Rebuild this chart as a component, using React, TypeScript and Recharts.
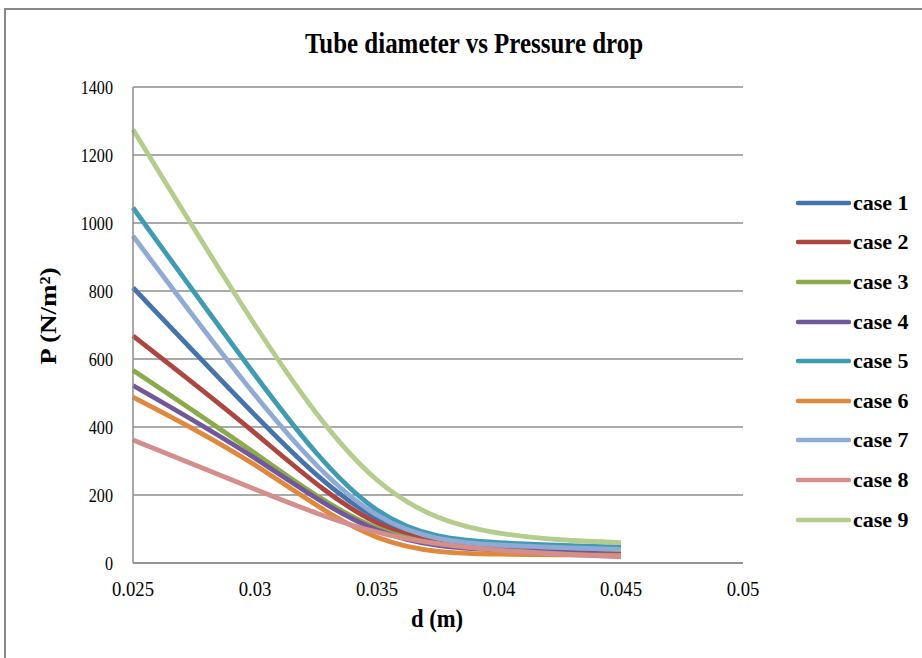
import { LineChart, Line, XAxis, YAxis, CartesianGrid } from "recharts";

// diameters (m) along the x axis
const diameters = [0.025, 0.03, 0.035, 0.04, 0.045];

// pressure drop (N/m²) for each case
const case1 = [810, 435, 132, 55, 38];
const case2 = [668, 382, 118, 45, 32];
const case3 = [567, 323, 103, 40, 28];
const case4 = [522, 308, 97, 38, 26];
const case5 = [1045, 553, 156, 60, 47];
const case6 = [488, 288, 76, 26, 22];
const case7 = [962, 494, 141, 53, 40];
const case8 = [362, 217, 91, 38, 18];
const case9 = [1275, 700, 244, 88, 60];

const xTicks = [0.025, 0.03, 0.035, 0.04, 0.045, 0.05];
const yTicks = [0, 200, 400, 600, 800, 1000, 1200, 1400];

const seriesNames = ["case 1", "case 2", "case 3", "case 4", "case 5", "case 6", "case 7", "case 8", "case 9"];
const seriesValues = [case1, case2, case3, case4, case5, case6, case7, case8, case9];
const colors = ["#4573AC", "#AD4540", "#8BAA4C", "#71589A", "#3F9BB3", "#E0883C", "#8FAAD4", "#D48E8C", "#B4CC8C"];

const data = diameters.map((d, i) => {
  const row: { [key: string]: number } = { d };
  seriesNames.forEach((name, s) => {
    row[name] = seriesValues[s][i];
  });
  return row;
});

const FONT = "'Liberation Serif', 'Times New Roman', serif";
const SQUEEZE = 0.85; // the original text looks a bit condensed

// tick labels, narrowed a little around their own anchor
const XTick = (props: any) => {
  const { x, y, payload } = props;
  return (
    <text
      x={x}
      y={y}
      dy="0.71em"
      textAnchor="middle"
      fontSize={22}
      fontFamily={FONT}
      fill="#000"
      transform={`translate(${x} 0) scale(${SQUEEZE} 1) translate(${-x} 0)`}
    >
      {String(payload.value)}
    </text>
  );
};

const YTick = (props: any) => {
  const { x, y, payload } = props;
  return (
    <text
      x={x}
      y={y}
      dy="0.355em"
      textAnchor="end"
      fontSize={19}
      fontFamily={FONT}
      fill="#000"
      transform={`translate(${x} 0) scale(${SQUEEZE} 1) translate(${-x} 0)`}
    >
      {String(payload.value)}
    </text>
  );
};

// legend drawn beside the chart, like Excel does
const LegendBox = () => (
  <div style={{ position: "absolute", left: 795, top: 183, fontFamily: FONT }}>
    {seriesNames.map((name, i) => (
      <div key={name} style={{ display: "flex", alignItems: "center", height: 39.6 }}>
        <svg width={56} height={10}>
          <line x1={3} y1={5} x2={54} y2={5} stroke={colors[i]} strokeWidth={4.5} strokeLinecap="round" />
        </svg>
        <span style={{ fontWeight: "bold", fontSize: 22, color: "#000", marginLeft: 2 }}>{name}</span>
      </div>
    ))}
  </div>
);

export default function App() {
  return (
    <div style={{ position: "absolute", left: 0, top: 0, width: 922, height: 658, background: "#fff", overflow: "hidden", fontFamily: FONT }}>
      <div style={{ position: "absolute", left: 4, top: 8, width: 960, height: 700, borderLeft: "2px solid #888", borderTop: "2px solid #888" }} />
      <div
        style={{
          position: "absolute",
          left: 174,
          width: 600,
          top: 28,
          textAlign: "center",
          fontWeight: "bold",
          fontSize: 29,
          lineHeight: "30px",
          whiteSpace: "nowrap",
          transform: "scaleX(0.86)",
        }}
      >
        Tube diameter vs Pressure drop
      </div>
      <div style={{ position: "absolute", left: 0, top: 0 }}>
        <LineChart width={922} height={658} data={data} margin={{ top: 87, right: 179, bottom: 65, left: 73 }}>
          <CartesianGrid horizontal vertical={false} stroke="#8c8c8c" strokeWidth={1.5} />
          <XAxis
            dataKey="d"
            type="number"
            domain={[0.025, 0.05]}
            ticks={xTicks}
            interval={0}
            tickLine={false}
            axisLine={{ stroke: "#8c8c8c", strokeWidth: 1.5 }}
            tick={<XTick />}
            tickMargin={11}
            height={30}
          />
          <YAxis
            type="number"
            domain={[0, 1400]}
            ticks={yTicks}
            interval={0}
            tickLine={false}
            axisLine={{ stroke: "#8c8c8c", strokeWidth: 1.5 }}
            tick={<YTick />}
            tickMargin={14}
            width={60}
          />
          {seriesNames.map((name, i) => (
            <Line
              key={name}
              type="natural"
              dataKey={name}
              stroke={colors[i]}
              strokeWidth={4.8}
              dot={false}
              activeDot={false}
              isAnimationActive={false}
            />
          ))}
        </LineChart>
      </div>
      <LegendBox />
      <div
        style={{
          position: "absolute",
          left: 337,
          width: 200,
          top: 605,
          textAlign: "center",
          fontWeight: "bold",
          fontSize: 26,
          lineHeight: "27px",
          transform: "scaleX(0.87)",
        }}
      >
        d (m)
      </div>
      <div
        style={{
          position: "absolute",
          left: -52,
          width: 200,
          top: 301,
          textAlign: "center",
          fontWeight: "bold",
          fontSize: 27,
          lineHeight: "30px",
          whiteSpace: "nowrap",
          transform: "scaleX(0.85) rotate(-90deg)",
        }}
      >
        P (N/m²)
      </div>
    </div>
  );
}
